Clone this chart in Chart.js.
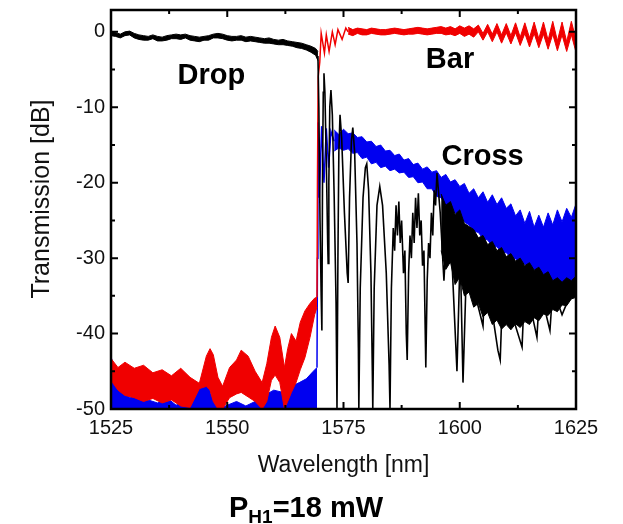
<!DOCTYPE html>
<html>
<head>
<meta charset="utf-8">
<script src="https://cdn.jsdelivr.net/npm/chart.js@4.4.1/dist/chart.umd.min.js"></script>
<style>
  html, body { margin: 0; padding: 0; background: #fff; }
  #wrap { width: 623px; height: 524px; }
</style>
</head>
<body>
<div id="wrap"><canvas id="chart" width="623" height="524"></canvas></div>
<script>
// Axis ticks
const xTicks = [1525, 1550, 1575, 1600, 1625];
const yTicks = [-50, -40, -30, -20, -10, 0];

// Drop (black) - flat part before the edge, drawn as a noise band
const dropFlatNm = [1525, 1526, 1527, 1528, 1529, 1530, 1531, 1532, 1533, 1534, 1535, 1536, 1537, 1538, 1539, 1540, 1541, 1542, 1543, 1544, 1545, 1546, 1547, 1548, 1549, 1550, 1551, 1552, 1553, 1554, 1555, 1556, 1557, 1558, 1559, 1560, 1561, 1562, 1563, 1564, 1565, 1566, 1567, 1568, 1569, 1569.5];
const dropFlatHi = [0.1, -0.1, -0.3, 0.0, 0.1, -0.2, -0.4, -0.5, -0.6, -0.4, -0.6, -0.7, -0.5, -0.4, -0.3, -0.4, -0.3, -0.5, -0.6, -0.7, -0.6, -0.5, -0.3, -0.2, -0.3, -0.5, -0.6, -0.6, -0.5, -0.7, -0.6, -0.7, -0.8, -0.9, -0.8, -1.0, -1.1, -1.0, -1.2, -1.3, -1.4, -1.5, -1.7, -1.9, -2.2, -2.6];
const dropFlatLo = [-0.5, -0.6, -0.8, -0.5, -0.4, -0.8, -1.0, -1.1, -1.1, -0.9, -1.2, -1.2, -1.1, -0.9, -0.9, -1.0, -0.8, -1.1, -1.2, -1.3, -1.1, -1.1, -0.8, -0.8, -0.9, -1.1, -1.2, -1.1, -1.1, -1.3, -1.2, -1.3, -1.4, -1.5, -1.5, -1.6, -1.7, -1.7, -1.8, -1.9, -2.1, -2.2, -2.4, -2.7, -3.1, -3.8];
// Drop - fringes after the edge
const dropFringeNm = [1569.5, 1569.7, 1569.95, 1570.2, 1570.35, 1570.5, 1570.65, 1570.8, 1571.0, 1571.3, 1571.6, 1571.7, 1571.85, 1572.05, 1572.3, 1572.6, 1573.0, 1573.4, 1573.6, 1573.8, 1574.0, 1574.25, 1574.6, 1575.2, 1575.8, 1576.0, 1576.3, 1576.7, 1577.0, 1577.4, 1577.9, 1578.2, 1578.3, 1578.6, 1579.2, 1579.7, 1580.0, 1580.4, 1580.9, 1581.2, 1581.3, 1581.6, 1582.2, 1582.8, 1583.4, 1584.2, 1584.8, 1585.0,
  1585.3, 1585.7, 1586.0, 1586.3, 1586.6, 1586.9, 1587.2, 1587.5, 1587.9, 1588.2, 1588.5, 1588.7, 1589.0, 1589.3, 1589.6, 1589.9, 1590.2, 1590.5, 1590.8, 1591.1, 1591.4, 1591.7, 1592.0, 1592.3, 1592.7, 1593.0, 1593.3, 1593.6, 1593.9, 1594.2, 1594.5, 1594.8, 1595.1,
  1595.8, 1596.6, 1597.3, 1598.3, 1599.4, 1600.1, 1600.7, 1601.5, 1603.0, 1605.0, 1605.5, 1608.2, 1608.7, 1609.3, 1611.0, 1613.4, 1614.0, 1616.6, 1617.2, 1619.4, 1620.0, 1622.0, 1625.0];
const dropFringeDb = [-3.2, -10, -25, -35, -39.6, -18, -8, -5.5, -8, -17, -28, -30.7, -20, -10, -7.7, -11, -22, -36, -50, -30, -16, -11, -14, -24, -32, -33.3, -22, -14.5, -12.7, -16, -28, -42, -50, -34, -22, -18, -17.5, -21, -32, -45, -50, -34, -23, -20.5, -23, -32, -44, -50,
  -34, -26, -29, -23, -27, -22.5, -28, -25, -32, -29, -40, -43.5, -32, -27, -30, -24, -28, -22, -26, -21.4, -27, -25, -31, -29, -44.5, -33, -28, -30, -24, -27, -21, -23, -18.7,
  -24, -33, -25, -30, -45, -29, -46.5, -30, -34, -39, -31, -42.2, -43.5, -33, -37, -41.8, -33, -40.5, -34, -39.6, -34, -37.5, -33];
// Drop - noisy tail
const dropTailNm = [1596, 1597, 1598, 1599, 1600, 1601, 1602, 1603, 1604, 1605, 1606, 1607, 1608, 1609, 1610, 1611, 1612, 1613, 1614, 1615, 1616, 1617, 1618, 1619, 1620, 1621, 1622, 1623, 1624, 1625];
const dropTailHi = [-21.5, -23, -22.5, -24.2, -23.6, -25.4, -25.8, -26.2, -27.3, -27, -28.2, -27.8, -29, -28.6, -29.8, -29.4, -30.4, -30, -31, -30.6, -31.6, -31.2, -32.2, -31.8, -33, -32.6, -33.2, -32.6, -33, -32.4];
const dropTailLo = [-29, -31.5, -30.5, -33.5, -32.5, -35, -34.5, -36.5, -36, -37.8, -37.2, -38.8, -38.2, -39.4, -38.8, -39.5, -38.7, -39.2, -38.4, -38.8, -37.9, -38.3, -37.4, -37.6, -36.8, -37.1, -36.2, -36.3, -35.4, -35.2];

// Bar (red)
const barLowNm = [1525, 1526.5, 1528, 1530, 1532, 1534, 1536, 1538, 1540, 1542, 1544, 1545.5, 1546.3, 1547, 1548, 1549, 1550.5, 1552, 1553, 1554.5, 1556, 1557.5, 1558.5, 1559.5, 1560.3, 1561.3, 1562.3, 1563, 1563.8, 1564.8, 1565.7, 1566.7, 1567.8, 1568.8, 1569.3];
const barLowHi = [-43.3, -44.5, -43.8, -44.6, -44.2, -45.2, -44.8, -45.6, -44.6, -45.8, -46.6, -43, -42, -42.8, -45.8, -47, -44.5, -43.5, -42.2, -43, -45, -46.5, -44, -40.5, -39, -40.5, -44.5, -42, -40, -41, -38.5, -37, -36, -35.3, -35.2];
const barLowLo = [-46.2, -47.5, -48.2, -48.5, -49, -48.6, -49.2, -48.8, -49.6, -49.8, -47.3, -47, -47.5, -49, -50, -50, -48.5, -48, -47.8, -48.4, -49, -50, -49, -46.2, -45.5, -46.5, -50, -49, -47.8, -46.5, -44.8, -43.2, -40.5, -37.5, -36.5];
const barEdgeNm = [1569.3, 1569.4, 1569.55, 1569.9, 1570.2, 1570.9, 1571.3, 1571.9, 1572.6, 1573.2, 1573.8, 1574.7, 1575.5, 1576];
const barEdgeDb = [-35.2, -20, -6, -4, -0.2, -2.8, -0.4, -2.6, 0, -1.7, 0.3, -1, 0.5, 0];
const barHighNm = [1576, 1577, 1578, 1579, 1580, 1581, 1582, 1583, 1584, 1585, 1586, 1587, 1588, 1589, 1590, 1591, 1592, 1593, 1594, 1595, 1596, 1597, 1598, 1599, 1600, 1601, 1602, 1603, 1604, 1605, 1606, 1607, 1608, 1609, 1610, 1611, 1612, 1613, 1614, 1615, 1616, 1617, 1618, 1619, 1620, 1621, 1622, 1623, 1624, 1625];
const barHighHi = [0.6, 0.3, 0.5, 0.4, 0.3, 0.5, 0.4, 0.3, 0.3, 0.4, 0.5, 0.4, 0.3, 0.4, 0.5, 0.6, 0.5, 0.4, 0.5, 0.6, 0.7, 0.5, 0.7, 0.4, 0.8, 0.5, 0.8, 0.4,
  0.9, -0.2, 1.0, -0.3, 1.1, -0.4, 1.1, -0.5, 1.2, -0.7, 1.2, -0.8, 1.3, -0.9, 1.3, -1.1, 1.4, -1.2, 1.3, -1.3, 1.4, -1.0];
const barHighLo = [-0.3, -0.5, -0.2, -0.4, -0.4, -0.2, -0.3, -0.4, -0.4, -0.3, -0.2, -0.3, -0.4, -0.3, -0.3, -0.2, -0.3, -0.4, -0.3, -0.2, -0.2, -0.4, -0.3, -0.5, -0.2, -0.6, -0.3, -0.7,
  0.0, -1.1, 0.0, -1.3, 0.0, -1.5, -0.1, -1.6, -0.1, -1.8, -0.2, -2.0, -0.2, -2.1, -0.3, -2.3, -0.3, -2.5, -0.4, -2.6, -0.4, -2.7];

// Cross (blue)
const crossLowNm = [1525, 1526, 1527.5, 1529, 1531, 1533, 1535, 1537, 1539, 1541, 1543, 1544.5, 1545.5, 1546.5, 1548, 1550, 1552, 1554, 1556, 1558, 1560, 1562, 1563.8, 1565.5, 1567, 1568.5, 1569.3];
const crossLowHi = [-43, -45.5, -47, -48.5, -47.8, -48.8, -49.2, -48.5, -49.5, -48.8, -47.2, -46.6, -46, -48, -50, -49.5, -49, -49.6, -49, -48.2, -47.5, -47.8, -47, -46.5, -46, -45, -44.5];
const crossEdgeNm = [1569.3, 1569.4, 1569.5, 1569.8, 1570.3, 1570.8, 1571.3, 1571.8, 1572.3, 1573];
const crossEdgeDb = [-44.5, -30, -12, -22, -12.5, -20, -12.8, -18, -13.2, -14.5];
const crossHighNm = [1573, 1574, 1575, 1576, 1577, 1578, 1579, 1580, 1581, 1582, 1583, 1584, 1585, 1586, 1587, 1588, 1589, 1590, 1591, 1592, 1593, 1594, 1595, 1596, 1597, 1598, 1599, 1600, 1601, 1602, 1603, 1604, 1605, 1606, 1607, 1608, 1609, 1610, 1611, 1612, 1613, 1614, 1615, 1616, 1617, 1618, 1619, 1620, 1621, 1622, 1623, 1624, 1625];
const crossHighHi = [-13.0, -13.6, -12.9, -13.5, -13.4, -14.0, -13.9, -14.6, -14.5, -15.2, -15.0, -15.8, -15.7, -16.4, -16.2, -17.0, -16.8, -17.6, -17.4, -18.2, -17.9, -18.6, -18.4, -19.3, -18.9, -19.9, -19.6, -20.5, -20.1, -21.4, -20.8, -22.0, -21.2, -22.6, -21.6, -22.9, -22.0, -23.4, -22.8, -24.4, -23.6, -25.4, -23.8, -25.9, -24.3, -25.9, -24.0, -25.6, -23.6, -25.2, -23.4, -24.6, -22.8];
const crossHighLo = [-15.8, -15.4, -15.7, -15.5, -16.1, -16.0, -16.8, -16.6, -17.5, -17.3, -18.0, -17.8, -18.4, -18.2, -18.7, -18.6, -19.3, -19.2, -20.0, -19.9, -20.8, -20.8, -21.8, -22.0, -23.0, -23.2, -24.0, -24.4, -25.2, -25.6, -26.4, -26.6, -27.4, -27.6, -28.4, -28.5, -29.2, -29.3, -29.9, -30.1, -30.6, -30.8, -31.3, -31.5, -31.8, -32.2, -32.8, -33.2, -33.5, -33.4, -33.2, -33.0, -32.8];

// Curve labels [text, nm, dB of baseline]
const curveLabels = [['Drop', 1546.6, -6.9], ['Bar', 1597.9, -4.8], ['Cross', 1604.9, -17.6]];
const xTitle = 'Wavelength [nm]';
const yTitle = 'Transmission [dB]';

const FONT = 'Arial, "Liberation Sans", sans-serif';
const RED = '#f00000';
const BLUE = '#0000f0';
const BLACK = '#000000';

const pts = (xs, ys) => xs.map((x, i) => ({ x: x, y: ys[i] }));

function line(xs, ys, color, order, width) {
  return { data: pts(xs, ys), borderColor: color, backgroundColor: color, borderWidth: width, pointRadius: 0, fill: false, order: order };
}
// upper and lower envelope, area between them filled
function band(xs, hi, lo, color, order) {
  return [
    { data: pts(xs, hi), borderColor: color, backgroundColor: color, borderWidth: 1, pointRadius: 0, fill: false, order: order },
    { data: pts(xs, lo), borderColor: color, backgroundColor: color, borderWidth: 1, pointRadius: 0, fill: '-1', order: order }
  ];
}

const datasets = [
  { data: pts(crossLowNm, crossLowHi), borderColor: BLUE, backgroundColor: BLUE, borderWidth: 1, pointRadius: 0, fill: 'start', order: 3 },
  line(crossEdgeNm, crossEdgeDb, BLUE, 3, 1.5),
  ...band(crossHighNm, crossHighHi, crossHighLo, BLUE, 3),
  ...band(barLowNm, barLowHi, barLowLo, RED, 2),
  line(barEdgeNm, barEdgeDb, RED, 2, 1.5),
  ...band(barHighNm, barHighHi, barHighLo, RED, 2),
  ...band(dropFlatNm, dropFlatHi, dropFlatLo, BLACK, 1),
  line(dropFringeNm, dropFringeDb, BLACK, 1, 1.6),
  ...band(dropTailNm, dropTailHi, dropTailLo, BLACK, 1)
];

// box and inward ticks (major + minor) on all four sides
const frame = {
  id: 'frame',
  afterDatasetsDraw(chart) {
    const { ctx, chartArea: a, scales: { x, y } } = chart;
    ctx.save();
    ctx.strokeStyle = '#000';
    ctx.lineWidth = 2;
    ctx.beginPath();
    xTicks.forEach((v, i) => {
      const px = x.getPixelForValue(v);
      ctx.moveTo(px, a.bottom); ctx.lineTo(px, a.bottom - 7);
      ctx.moveTo(px, a.top); ctx.lineTo(px, a.top + 7);
      if (i < xTicks.length - 1) {
        const pm = x.getPixelForValue((v + xTicks[i + 1]) / 2);
        ctx.moveTo(pm, a.bottom); ctx.lineTo(pm, a.bottom - 4);
        ctx.moveTo(pm, a.top); ctx.lineTo(pm, a.top + 4);
      }
    });
    yTicks.forEach((v, i) => {
      const py = y.getPixelForValue(v);
      ctx.moveTo(a.left, py); ctx.lineTo(a.left + 7, py);
      ctx.moveTo(a.right, py); ctx.lineTo(a.right - 7, py);
      if (i < yTicks.length - 1) {
        const pm = y.getPixelForValue((v + yTicks[i + 1]) / 2);
        ctx.moveTo(a.left, pm); ctx.lineTo(a.left + 4, pm);
        ctx.moveTo(a.right, pm); ctx.lineTo(a.right - 4, pm);
      }
    });
    ctx.stroke();
    ctx.lineWidth = 2.5;
    ctx.strokeRect(a.left, a.top, a.width, a.height);
    ctx.restore();
  }
};

// curve names, axis titles and the power caption
const texts = {
  id: 'texts',
  afterDraw(chart) {
    const { ctx, chartArea: a, scales: { x, y } } = chart;
    ctx.save();
    ctx.fillStyle = '#000';
    ctx.textAlign = 'center';
    ctx.textBaseline = 'alphabetic';
    ctx.font = 'bold 29px ' + FONT;
    curveLabels.forEach(([t, nm, db]) => ctx.fillText(t, x.getPixelForValue(nm), y.getPixelForValue(db)));

    ctx.fillStyle = '#111';
    ctx.textBaseline = 'middle';
    ctx.font = '23px ' + FONT;
    ctx.fillText(xTitle, (a.left + a.right) / 2, 466);
    ctx.save();
    ctx.translate(42, 199);
    ctx.rotate(-Math.PI / 2);
    ctx.font = '25px ' + FONT;
    ctx.fillText(yTitle, 0, 0);
    ctx.restore();

    ctx.fillStyle = '#000';
    ctx.textAlign = 'left';
    ctx.textBaseline = 'alphabetic';
    let cx = 229;
    ctx.font = 'bold 29px ' + FONT;
    ctx.fillText('P', cx, 517);
    cx += ctx.measureText('P').width;
    ctx.font = 'bold 19px ' + FONT;
    ctx.fillText('H1', cx, 523);
    cx += ctx.measureText('H1').width;
    ctx.font = 'bold 29px ' + FONT;
    ctx.fillText('=18 mW', cx, 517);
    ctx.restore();
  }
};

new Chart(document.getElementById('chart'), {
  type: 'line',
  data: { datasets: datasets },
  options: {
    responsive: false,
    devicePixelRatio: 1,
    animation: false,
    layout: { padding: { left: 0, right: 47, top: 10, bottom: 0 } },
    plugins: { legend: { display: false }, tooltip: { enabled: false } },
    scales: {
      x: {
        type: 'linear', min: 1525, max: 1625,
        afterBuildTicks: s => { s.ticks = xTicks.map(v => ({ value: v })); },
        afterFit: s => { s.height = 115; s.paddingLeft = 0; s.paddingRight = 0; },
        ticks: { font: { family: FONT, size: 20 }, color: '#111', padding: 7, maxRotation: 0, autoSkip: false, callback: v => String(v) },
        grid: { display: false, drawTicks: false },
        border: { display: false }
      },
      y: {
        type: 'linear', min: -50, max: 2.9,
        afterBuildTicks: s => { s.ticks = yTicks.map(v => ({ value: v })); },
        afterFit: s => { s.width = 111; s.paddingTop = 0; s.paddingBottom = 0; },
        ticks: { font: { family: FONT, size: 20 }, color: '#111', padding: 6, autoSkip: false, callback: v => String(v) },
        grid: { display: false, drawTicks: false },
        border: { display: false }
      }
    }
  },
  plugins: [frame, texts]
});
</script>
</body>
</html>
